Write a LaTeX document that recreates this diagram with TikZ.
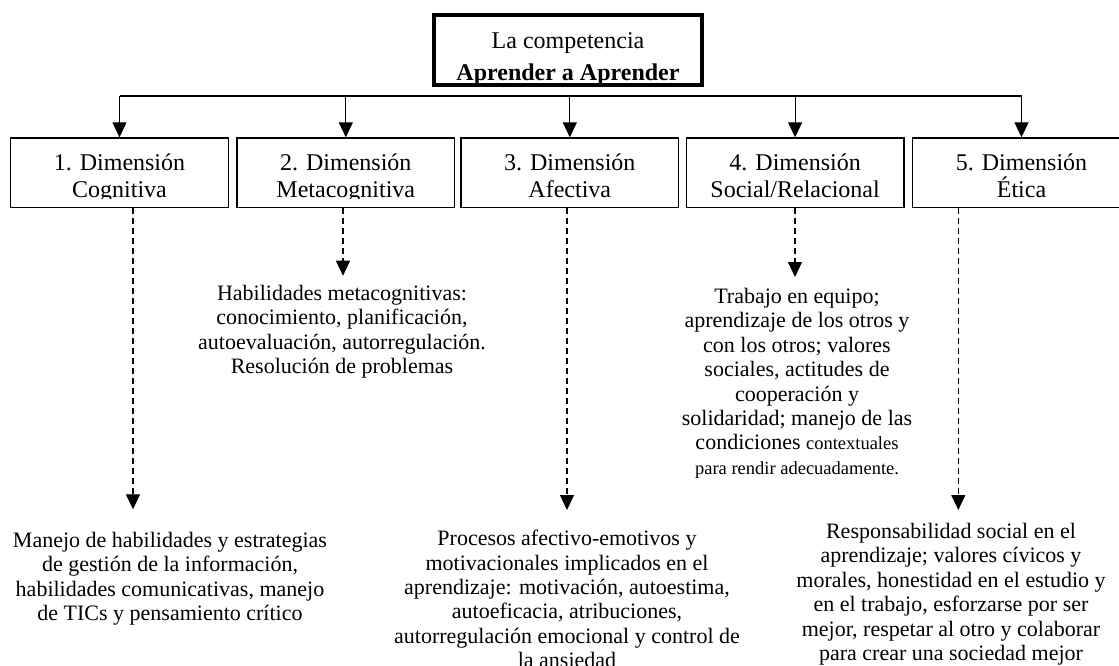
\documentclass[tikz,border=0pt]{standalone}
\usepackage{fontspec}
\setmainfont{Liberation Serif}
\usetikzlibrary{arrows.meta}

\begin{document}
\begin{tikzpicture}[
            x=1pt, y=-1pt,
            arr/.style={-{Triangle[width=14pt, length=15pt]}, line width=1.2pt},
            dasharr/.style={arr, dash pattern=on 6pt off 4pt},
            boxfont/.style={font=\fontsize{24}{27}\selectfont, inner sep=0pt},
            topbox/.style={draw, line width=4pt, minimum width=268.6pt, minimum height=70pt, inner sep=0pt,
                path picture={
                    \clip ([yshift=2pt]path picture bounding box.south west) rectangle (path picture bounding box.north east);
                    \node[anchor=base, boxfont] at ([yshift=1.5pt]path picture bounding box.center) {La competencia};
                    \node[anchor=base, boxfont] at ([yshift=-30.6pt]path picture bounding box.center) {\textbf{Aprender a Aprender}};
                }},
            dimbox/.style 2 args={draw, line width=1.4pt, minimum width=217.5pt, minimum height=69.5pt, inner sep=0pt,
                path picture={
                    \clip ([yshift=9pt]path picture bounding box.south west) rectangle (path picture bounding box.north east);
                    \node[anchor=base, boxfont] at ([yshift=2.75pt]path picture bounding box.center) {#1};
                    \node[anchor=base, boxfont] at ([yshift=-24.55pt]path picture bounding box.center) {#2};
                }},
            desc/.style={align=center, anchor=north, inner sep=0pt, font=\fontsize{22}{24.4}\selectfont}
        ]

        \useasboundingbox (0,0) rectangle (1119,665);

        % Root node
        \node[topbox] (comp) at (568,50.3) {};

        % the five dimensions
        \node[dimbox={1. Dimensión}{Cognitiva}] (cog) at (119.5,172.75) {};
        \node[dimbox={2. Dimensión}{Metacognitiva}] (meta) at (345.8,172.75) {};
        \node[dimbox={3. Dimensión}{Afectiva}] (afe) at (569.8,172.75) {};
        \node[dimbox={4. Dimensión}{Social/Relacional}] (soc) at (795.1,172.75) {};
        \node[dimbox={5. Dimensión}{Ética}] (eti) at (1021.5,172.75) {};

        % horizontal line and arrows into the boxes
        \coordinate (bus) at (0,96);
        \draw[line width=1.2pt] (cog.north |- bus) -- (eti.north |- bus);
        \foreach \b in {cog, meta, afe, soc, eti}
            \draw[arr] (\b.north |- bus) -- (\b.north);

        % descriptions
        \node[desc] (cogtxt) at (170,532) {Manejo de habilidades y estrategias\\de gestión de la información,\\habilidades comunicativas, manejo\\de TICs y pensamiento crítico};
        \node[desc] (metatxt) at (342,285) {Habilidades metacognitivas:\\conocimiento, planificación,\\autoevaluación, autorregulación.\\Resolución de problemas};
        \node[desc] (afetxt) at (567,530) {Procesos afectivo-emotivos y\\motivacionales implicados en el\\aprendizaje: motivación, autoestima,\\autoeficacia, atribuciones,\\autorregulación emocional y control de\\la ansiedad};
        \node[desc] (soctxt) at (797,288) {Trabajo en equipo;\\aprendizaje de los otros y\\con los otros; valores\\sociales, actitudes de\\cooperación y\\solidaridad; manejo de las\\condiciones {\fontsize{18.5}{22}\selectfont contextuales}\\{\fontsize{18.5}{22}\selectfont para rendir adecuadamente.}};
        \node[desc] (etitxt) at (951,523) {Responsabilidad social en el\\aprendizaje; valores cívicos y\\morales, honestidad en el estudio y\\en el trabajo, esforzarse por ser\\mejor, respetar al otro y colaborar\\para crear una sociedad mejor};

        % dashed arrows down to the descriptions
        \coordinate (cogtip) at (133,509.3);
        \coordinate (metatip) at (343,275.7);
        \coordinate (afetip) at (567,510);
        \coordinate (soctip) at (795,277);
        \coordinate (etitip) at (958.3,510);
        \draw[dasharr] (cog.south -| cogtip) -- (cogtip);
        \draw[dasharr] (meta.south -| metatip) -- (metatip);
        \draw[dasharr] (afe.south -| afetip) -- (afetip);
        \draw[dasharr] (soc.south -| soctip) -- (soctip);
        \draw[dasharr] (eti.south -| etitip) -- (etitip);
\end{tikzpicture}
\end{document}
